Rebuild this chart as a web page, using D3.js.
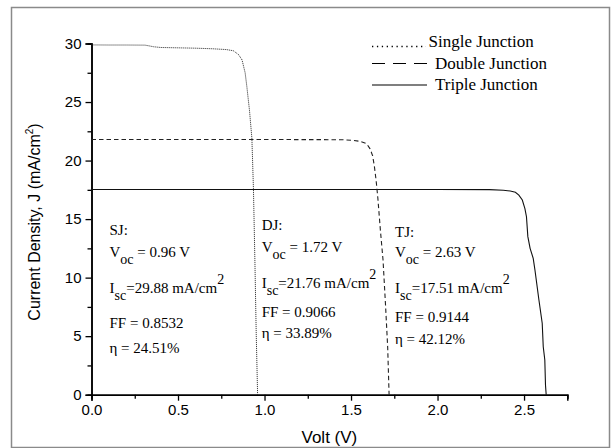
<!DOCTYPE html>
<html>
<head>
<meta charset="utf-8">
<script src="https://cdn.jsdelivr.net/npm/d3@7"></script>
<style>
  html, body { margin: 0; padding: 0; background: #fff; }
  svg { display: block; }
</style>
</head>
<body>
<svg id="chart" width="616" height="448"></svg>
<script>
// ---- data ----
const xTicks = [0.0, 0.5, 1.0, 1.5, 2.0, 2.5];
const xMinorTicks = [0.25, 0.75, 1.25, 1.75, 2.25, 2.75];
const yTicks = [0, 5, 10, 15, 20, 25, 30];
const yMinorTicks = [2.5, 7.5, 12.5, 17.5, 22.5, 27.5];

// Single junction (V, J)
const sjV = [0, 0.10, 0.20, 0.31, 0.36, 0.40, 0.50, 0.60, 0.70, 0.78, 0.82, 0.85, 0.87, 0.888, 0.898, 0.913, 0.927, 0.936, 0.945, 0.952, 0.957, 0.96];
const sjJ = [29.88, 29.87, 29.87, 29.86, 29.72, 29.66, 29.63, 29.60, 29.55, 29.48, 29.38, 29.05, 28.60, 27.50, 26.30, 24.30, 21.90, 17.60, 11.0, 5.25, 2.0, 0];

// Double junction
const djV = [0, 0.5, 1.0, 1.45, 1.50, 1.55, 1.59, 1.61, 1.625, 1.635, 1.645, 1.655, 1.67, 1.685, 1.70, 1.712, 1.72];
const djJ = [21.80, 21.80, 21.80, 21.78, 21.74, 21.65, 21.45, 21.0, 20.4, 19.5, 18.3, 16.8, 14.0, 11.5, 7.5, 4.0, 0];

// Triple junction
const tjV = [0, 1.0, 2.0, 2.30, 2.38, 2.42, 2.45, 2.47, 2.49, 2.505, 2.514, 2.522, 2.535, 2.553, 2.563, 2.586, 2.605, 2.611, 2.62, 2.624, 2.628];
const tjJ = [17.53, 17.53, 17.53, 17.52, 17.46, 17.40, 17.29, 17.05, 16.63, 15.9, 15.2, 13.5, 12.5, 11.65, 10.65, 8.09, 6.1, 4.1, 2.96, 0.8, 0];

const legendLabels = ["Single Junction", "Double Junction", "Triple Junction"];

// annotation lines: segments [text, kind]
const annoSJ = [
  [["SJ:", ""]],
  [["V", ""], ["oc", "sub"], [" = 0.96 V", ""]],
  [["I", ""], ["sc", "sub"], ["=29.88 mA/cm", ""], ["2", "sup"]],
  [["FF = 0.8532", ""]],
  [["\u03b7 = 24.51%", ""]]
];
const annoDJ = [
  [["DJ:", ""]],
  [["V", ""], ["oc", "sub"], [" = 1.72 V", ""]],
  [["I", ""], ["sc", "sub"], ["=21.76 mA/cm", ""], ["2", "sup"]],
  [["FF = 0.9066", ""]],
  [["\u03b7 = 33.89%", ""]]
];
const annoTJ = [
  [["TJ:", ""]],
  [["V", ""], ["oc", "sub"], [" = 2.63 V", ""]],
  [["I", ""], ["sc", "sub"], ["=17.51 mA/cm", ""], ["2", "sup"]],
  [["FF = 0.9144", ""]],
  [["\u03b7 = 42.12%", ""]]
];

// ---- drawing ----
const svg = d3.select("#chart");
const sans = "'Liberation Sans', Arial, sans-serif";
const serif = "'Liberation Serif', 'Times New Roman', serif";

// outer frame
svg.append("rect")
  .attr("x", 11.5).attr("y", 7.5).attr("width", 598).attr("height", 440)
  .attr("fill", "none").attr("stroke", "#8a8a8a").attr("stroke-width", 1.5);

const x = d3.scaleLinear().domain([0, 2.75]).range([91.5, 567.3]);
const y = d3.scaleLinear().domain([0, 30]).range([394.7, 43.5]);

// axes
const xAxis = d3.axisBottom(x).tickValues(xTicks).tickFormat(d3.format(".1f")).tickSize(6).tickPadding(4);
const xMinor = d3.axisBottom(x).tickValues(xMinorTicks).tickFormat("").tickSize(4);
const yAxis = d3.axisLeft(y).tickValues(yTicks).tickFormat(d3.format("d")).tickSize(6).tickPadding(4);
const yMinor = d3.axisLeft(y).tickValues(yMinorTicks).tickFormat("").tickSize(4);

function styleAxis(g) {
  g.select(".domain").attr("stroke", "#000").attr("stroke-width", 1.5);
  g.selectAll(".tick line").attr("stroke", "#000").attr("stroke-width", 1.3);
  g.selectAll(".tick text").attr("fill", "#000").style("font-family", sans).style("font-size", "15px");
}

svg.append("g").attr("transform", `translate(0,${y(0)})`).call(xMinor).call(styleAxis);
svg.append("g").attr("transform", `translate(0,${y(0)})`).call(xAxis).call(styleAxis);
svg.append("g").attr("transform", `translate(${x(0)},0)`).call(yMinor).call(styleAxis);
svg.append("g").attr("transform", `translate(${x(0)},0)`).call(yAxis).call(styleAxis);

// axis titles
svg.append("text")
  .attr("x", (x(0) + x(2.75)) / 2).attr("y", 443)
  .attr("text-anchor", "middle")
  .style("font-family", sans).style("font-size", "17px")
  .text("Volt (V)");

const yt = svg.append("text")
  .attr("transform", `translate(40,222) rotate(-90)`)
  .attr("text-anchor", "middle")
  .style("font-family", sans).style("font-size", "16px");
yt.append("tspan").text("Current Density, J (mA/cm");
yt.append("tspan").attr("dy", -7).style("font-size", "10px").text("2");
yt.append("tspan").attr("dy", 7).text(")");

// curves
const line = d3.line().x(d => x(d[0])).y(d => y(d[1]));
const zip = (a, b) => a.map((v, i) => [v, b[i]]);

svg.append("path").datum(zip(tjV, tjJ)).attr("d", line)
  .attr("fill", "none").attr("stroke", "#111").attr("stroke-width", 1.1);
svg.append("path").datum(zip(djV, djJ)).attr("d", line)
  .attr("fill", "none").attr("stroke", "#222").attr("stroke-width", 1.1)
  .attr("stroke-dasharray", "4.5,3");
svg.append("path").datum(zip(sjV, sjJ)).attr("d", line)
  .attr("fill", "none").attr("stroke", "#222").attr("stroke-width", 1)
  .attr("stroke-dasharray", "1,1");

// legend
const legY = [47, 68.5, 90];
const legG = svg.append("g");
legG.append("line").attr("x1", 372).attr("x2", 426).attr("y1", legY[0] - 0.5).attr("y2", legY[0] - 0.5)
  .attr("stroke", "#000").attr("stroke-width", 1.4).attr("stroke-dasharray", "1.3,3.6");
legG.append("line").attr("x1", 372).attr("x2", 427).attr("y1", legY[1] - 5).attr("y2", legY[1] - 5)
  .attr("stroke", "#000").attr("stroke-width", 1.1).attr("stroke-dasharray", "13,8");
legG.append("line").attr("x1", 372).attr("x2", 427).attr("y1", legY[2] - 5).attr("y2", legY[2] - 5)
  .attr("stroke", "#000").attr("stroke-width", 1.1);
const legX = [428.5, 435, 435];
legendLabels.forEach((t, i) => {
  legG.append("text").attr("x", legX[i]).attr("y", legY[i])
    .style("font-family", serif).style("font-size", "17px").text(t);
});

// annotations
function drawAnno(lines, x0, baselines) {
  lines.forEach((segs, i) => {
    const t = svg.append("text").attr("x", x0).attr("y", baselines[i])
      .style("font-family", serif).style("font-size", "15px").attr("fill", "#000");
    let shift = 0;
    segs.forEach(([txt, kind]) => {
      const ts = t.append("tspan").text(txt);
      let target = 0;
      if (kind === "sub") { target = 7; ts.style("font-size", "14px"); }
      if (kind === "sup") { target = -9; ts.style("font-size", "14px"); }
      ts.attr("dy", target - shift);
      shift = target;
    });
  });
}
drawAnno(annoSJ, 109.5, [235, 257.3, 293, 328.3, 353.3]);
drawAnno(annoDJ, 261.7, [230, 251.7, 288.3, 316.7, 338.3]);
drawAnno(annoTJ, 395, [236.7, 257.3, 293.3, 321.7, 344]);
</script>
</body>
</html>
